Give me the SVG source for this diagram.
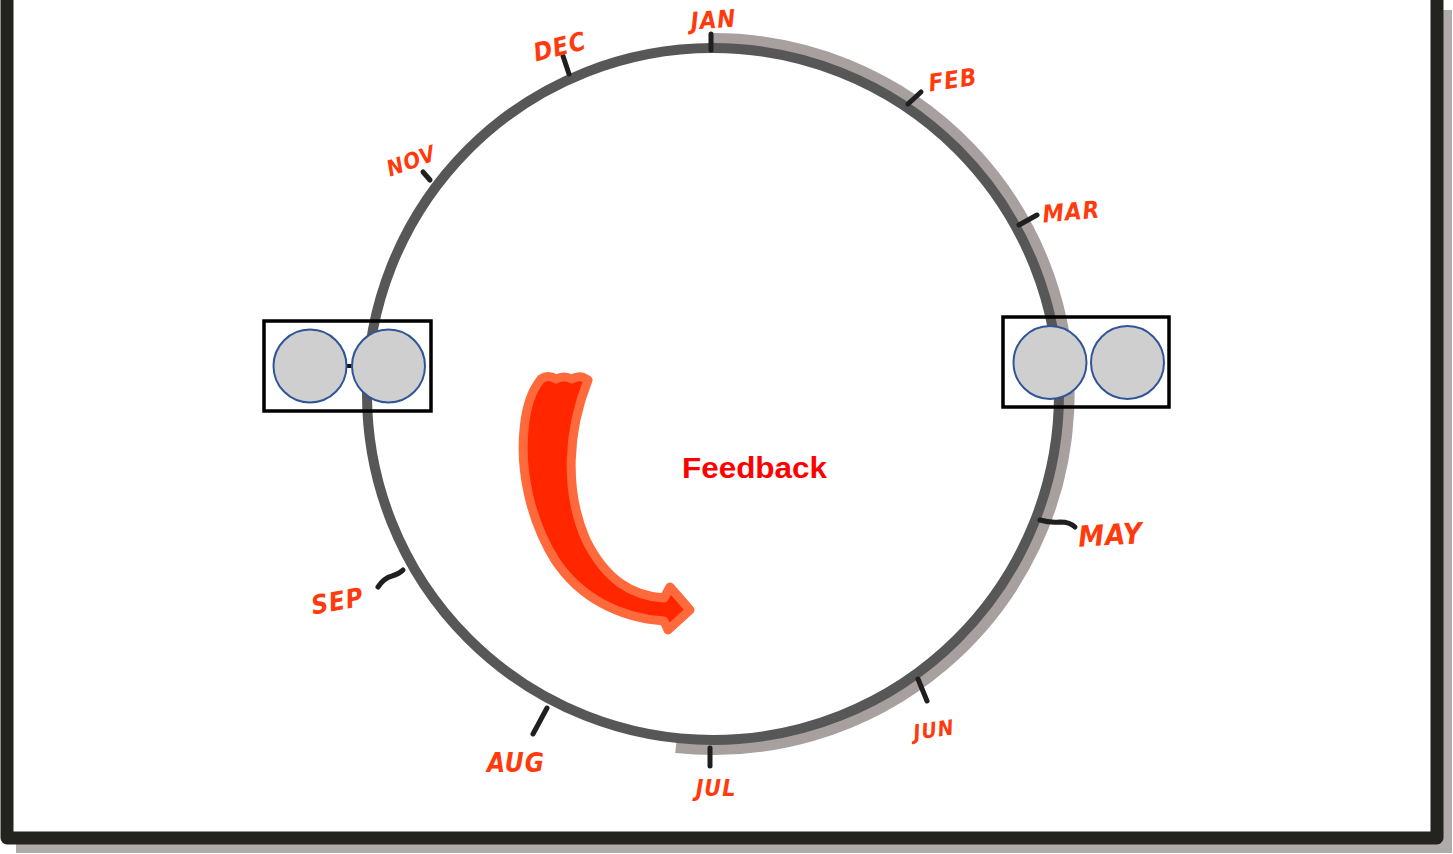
<svg xmlns="http://www.w3.org/2000/svg" width="1453" height="854" viewBox="0 0 1453 854">
<style>
.tick{stroke:#1f1f1f;stroke-width:5;stroke-linecap:round;fill:none}
.mon{font-family:"DejaVu Sans Condensed","DejaVu Sans",sans-serif;font-style:oblique;font-weight:bold;fill:#ff3a0c;text-anchor:middle;font-size:24px;letter-spacing:1px}
.box{fill:none;stroke:#000;stroke-width:3.5}
.disc{fill:#d0cfd0;stroke:#2f5597;stroke-width:2}
</style>
<rect width="1453" height="854" fill="#fff"/>
<g id="frame">
<path d="M16 848 L1447 848 L1447 10" fill="none" stroke="#b0abab" stroke-width="10"/>
<path d="M7 0 L7 838 L1437 838 L1437 0" fill="none" stroke="#23231f" stroke-width="13" stroke-linejoin="round"/>
</g>
<g id="ring">
<path d="M713 40 A354 354 0 1 1 676 746" fill="none" stroke="#a89f9f" stroke-width="14"/>
<circle cx="713" cy="394" r="346" fill="none" stroke="#575757" stroke-width="10"/>
</g>
<g id="months">
<g id="jan"><line class="tick" x1="711" y1="34" x2="711" y2="50"/><text class="mon" x="714" y="28" transform="rotate(-4 714 28)">JAN</text></g>
<g id="feb"><line class="tick" x1="908" y1="104" x2="921" y2="92"/><text class="mon" x="954" y="88" transform="rotate(-8 954 88)">FEB</text></g>
<g id="mar"><line class="tick" x1="1019" y1="225" x2="1037" y2="215"/><text class="mon" x="1072" y="220" transform="rotate(-5 1072 220)">MAR</text></g>
<g id="may"><path class="tick" d="M1040 520 Q1050 523 1060 522 Q1070 522 1075 527"/><text class="mon" x="1111" y="545" style="font-size:29px" transform="rotate(-3 1111 545)">MAY</text></g>
<g id="jun"><line class="tick" x1="918" y1="679" x2="927" y2="701"/><text class="mon" x="935" y="737" style="font-size:21px" transform="rotate(-8 935 737)">JUN</text></g>
<g id="jul"><line class="tick" x1="710" y1="748" x2="710" y2="766"/><text class="mon" x="716" y="796" style="font-size:23px">JUL</text></g>
<g id="aug"><line class="tick" x1="547" y1="708" x2="533" y2="734"/><text class="mon" x="516" y="772" style="font-size:26px">AUG</text></g>
<g id="sep"><path class="tick" d="M378 587 Q384 578 392 576 Q399 574 403 570"/><text class="mon" x="339" y="610" style="font-size:26px" transform="rotate(-10 339 610)">SEP</text></g>
<g id="nov"><line class="tick" x1="423" y1="172" x2="430" y2="180"/><text class="mon" x="414" y="168" style="font-size:22px" transform="rotate(-20 414 168)">NOV</text></g>
<g id="dec"><line class="tick" x1="563" y1="56" x2="569" y2="74"/><text class="mon" x="562" y="55" style="font-size:25px" transform="rotate(-14 562 55)">DEC</text></g>
</g>
<g id="box-left">
<rect class="box" x="264" y="321" width="167" height="90"/>
<line x1="346" y1="366" x2="353" y2="366" stroke="#111" stroke-width="4"/>
<circle class="disc" cx="310" cy="366" r="36.5"/>
<circle class="disc" cx="388.5" cy="366" r="36.5"/>
</g>
<g id="box-right">
<rect class="box" x="1003" y="317" width="166" height="90"/>
<circle class="disc" cx="1050" cy="362.5" r="36.5"/>
<circle class="disc" cx="1127.5" cy="362.5" r="36.5"/>
</g>
<g id="arrow">
<path d="M541 379 Q548 374 556 379 Q564 375 572 379 Q580 374 588 380 C568 430 564 490 586 540 C606 580 632 596 664 598 L670 587 L690 610 L668 630 L664 621 C620 618 580 598 555 560 C530 520 520 470 524 430 C526 405 532 390 541 379 Z" fill="#ff2600" stroke="#ff6a3d" stroke-width="9" stroke-linejoin="round"/>
</g>
<g id="feedback">
<text x="682" y="478" font-family="'Liberation Sans',Arial,sans-serif" font-weight="bold" font-size="29" fill="#ff0000" textLength="145" lengthAdjust="spacingAndGlyphs">Feedback</text>
</g>
</svg>
